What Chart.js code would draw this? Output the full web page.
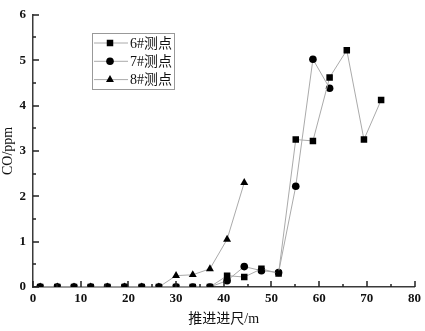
<!DOCTYPE html>
<html>
<head>
<meta charset="utf-8">
<script src="https://cdn.jsdelivr.net/npm/chart.js@4/dist/chart.umd.min.js"></script>
<style>
  html, body { margin: 0; padding: 0; background: #fff; }
  #wrap { width: 425px; height: 331px; }
</style>
</head>
<body>
<div id="wrap"><canvas id="co-chart"></canvas></div>
<script>
// ---------------------------------------------------
const xPos = [ 1.5, 5.1, 8.6, 12.1, 15.6, 19.2, 22.8, 26.4, 30.0, 33.5, 37.1,
               40.7, 44.3, 47.9, 51.5, 55.1, 58.7, 62.2, 65.8, 69.4, 73.0 ];
const seriesNames = [ '6#测点', '7#测点', '8#测点' ];
const s6 = [ 0, 0, 0, 0, 0, 0, 0, 0, 0, 0, 0,
             0.25, 0.22, 0.40, 0.30, 3.25, 3.22, 4.62, 5.22, 3.25, 4.12 ];
const s7 = [ 0, 0, 0, 0, 0, 0, 0, 0, 0, 0, 0,
             0.14, 0.45, 0.36, 0.32, 2.22, 5.02, 4.38 ];
const s8 = [ 0, 0, 0, 0, 0, 0, 0, 0,
             0.25, 0.27, 0.40, 1.05, 2.30 ];
const xTicks = [ 0, 10, 20, 30, 40, 50, 60, 70, 80 ];
const yTicks = [ 0, 1, 2, 3, 4, 5, 6 ];
// ---------------------------------------------------
const serif = '"Liberation Serif", "Noto Sans CJK SC", serif';
const axisColor = '#3a3a3a';

function toPoints( values ) {
    return values.map( ( v, i ) => ({ x: xPos[ i ], y: v }) );
}

const styles = [
    { pointStyle: 'rect', pointRadius: 4.6 },
    { pointStyle: 'circle', pointRadius: 3.8 },
    { pointStyle: 'triangle', pointRadius: 4.6 }
];

// inward tick marks like the original software draws them
function drawInnerTicks( chart ) {
    const ctx = chart.ctx;
    const xs = chart.scales.x, ys = chart.scales.y;
    const area = chart.chartArea;
    ctx.save();
    ctx.strokeStyle = '#222';
    ctx.lineWidth = 1.5;
    ctx.beginPath();
    for ( let i = 0; i <= 16; i++ ) {
        const px = Math.round( xs.getPixelForValue( i * 5 ) );
        const len = i % 2 === 0 ? 6 : 3;
        ctx.moveTo( px, area.bottom );
        ctx.lineTo( px, area.bottom - len );
    }
    for ( let i = 0; i <= 12; i++ ) {
        const py = Math.round( ys.getPixelForValue( i * 0.5 ) );
        const len = i % 2 === 0 ? 6 : 3;
        ctx.moveTo( area.left, py );
        ctx.lineTo( area.left + len, py );
    }
    ctx.stroke();
    ctx.restore();
}

// legend box drawn inside the plot
function drawBoxLegend( chart ) {
    const ctx = chart.ctx;
    const left = 92, top = 33, w = 82, h = 56;
    ctx.save();
    ctx.strokeStyle = '#999';
    ctx.lineWidth = 1;
    ctx.strokeRect( left + 0.5, top + 0.5, w, h );
    chart.data.datasets.forEach( ( ds, i ) => {
        const y = top + 10 + i * 18.3;
        ctx.strokeStyle = ds.borderColor;
        ctx.lineWidth = 1;
        ctx.beginPath();
        ctx.moveTo( left + 2, y );
        ctx.lineTo( left + 36, y );
        ctx.stroke();
        ctx.fillStyle = '#000';
        ctx.strokeStyle = '#000';
        Chart.helpers.drawPoint( ctx, {
            pointStyle: ds.pointStyle,
            radius: ds.pointRadius,
            rotation: 0,
            borderWidth: 0
        }, left + 18, y );
        ctx.fillStyle = '#111';
        ctx.font = '14px ' + serif;
        ctx.textBaseline = 'middle';
        ctx.textAlign = 'left';
        ctx.fillText( ds.label, left + 38, y + 1 );
    });
    ctx.restore();
}

const overlay = {
    id: 'overlay',
    afterDraw( chart ) {
        drawInnerTicks( chart );
        drawBoxLegend( chart );
    }
};

window.addEventListener( 'load', function () {
    const canvas = document.querySelector( '#co-chart' );
    const data = {
        datasets: [ s6, s7, s8 ].map( ( vals, i ) => ({
            label: seriesNames[ i ],
            data: toPoints( vals ),
            borderColor: '#aaa',
            borderWidth: 1,
            backgroundColor: '#000',
            pointBackgroundColor: '#000',
            pointBorderColor: '#000',
            pointBorderWidth: 0,
            pointStyle: styles[ i ].pointStyle,
            pointRadius: styles[ i ].pointRadius,
            pointHoverRadius: styles[ i ].pointRadius,
            tension: 0
        }) )
    };
    new Chart( canvas, {
        type: 'line',
        data: data,
        options: {
            responsive: true,
            maintainAspectRatio: false,
            animation: false,
            layout: { padding: { top: 9, right: 9, left: 0, bottom: 0 } },
            plugins: {
                legend: { display: false },
                tooltip: { enabled: false }
            },
            scales: {
                x: {
                    type: 'linear',
                    min: 0,
                    max: 80,
                    afterFit( scale ) { scale.height = 44; },
                    afterBuildTicks( scale ) { scale.ticks = xTicks.map( v => ({ value: v }) ); },
                    grid: { display: false, drawTicks: false },
                    border: { display: true, color: axisColor, width: 1.5 },
                    ticks: {
                        padding: 4,
                        color: '#111',
                        font: { family: serif, size: 13, weight: 'bold' }
                    },
                    title: {
                        display: true,
                        text: '推进进尺/m',
                        color: '#111',
                        padding: { top: 0, bottom: 3 },
                        font: { family: serif, size: 14 }
                    }
                },
                y: {
                    min: 0,
                    max: 6,
                    afterFit( scale ) { scale.width = 33; },
                    afterBuildTicks( scale ) { scale.ticks = yTicks.map( v => ({ value: v }) ); },
                    grid: { display: false, drawTicks: false },
                    border: { display: true, color: axisColor, width: 1.5 },
                    ticks: {
                        padding: 7,
                        color: '#111',
                        font: { family: serif, size: 13, weight: 'bold' }
                    },
                    title: {
                        display: true,
                        text: 'CO/ppm',
                        color: '#111',
                        padding: { top: 0, bottom: 0 },
                        font: { family: serif, size: 14 }
                    }
                }
            }
        },
        plugins: [ overlay ]
    });
}, false );
</script>
</body>
</html>
